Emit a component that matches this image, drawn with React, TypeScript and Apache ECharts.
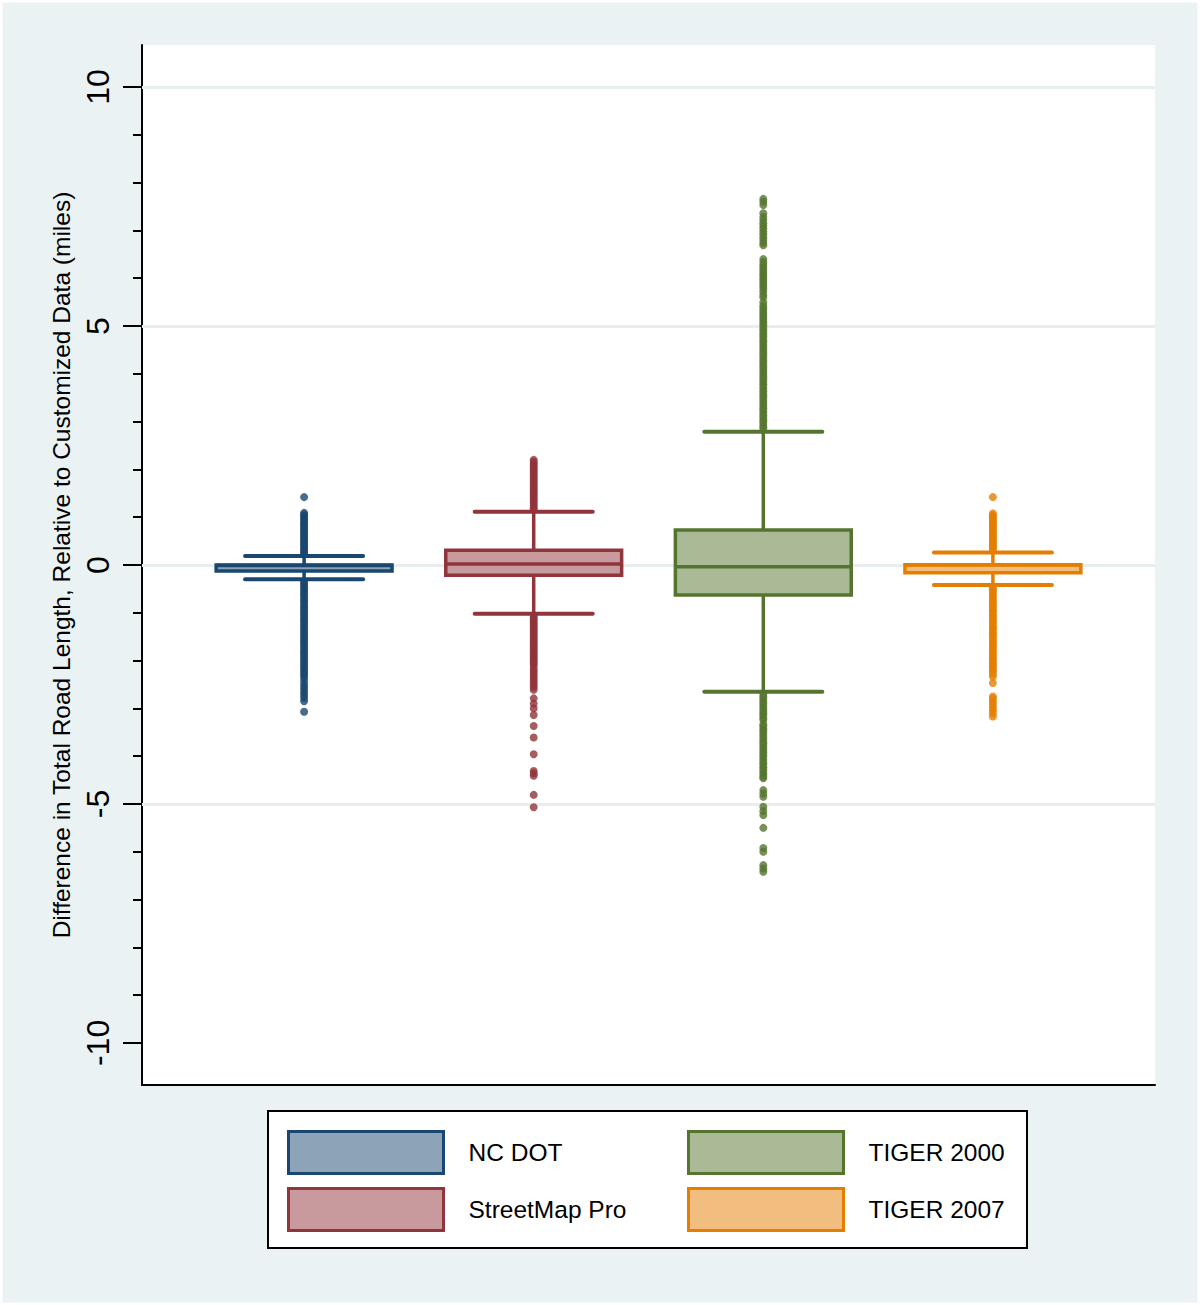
import React, { useEffect, useRef } from "react";
import * as echarts from "echarts";

const categories = ["NC DOT", "StreetMap Pro", "TIGER 2000", "TIGER 2007"];
const lineColors = ["#1A476F", "#90353B", "#55752F", "#E37E00"];
const fillColors = ["#8CA3B8", "#C89A9D", "#AABA97", "#F1BE7F"];
// [lower whisker, Q1, median, Q3, upper whisker]
const boxStats = [
  [-0.3, -0.125, -0.01, 0.0, 0.19],
  [-1.02, -0.215, 0.02, 0.31, 1.115],
  [-2.65, -0.63, -0.035, 0.73, 2.79],
  [-0.42, -0.16, 0.0, 0.005, 0.26],
];

const outliersNCDOT = [
  1.42, 1.09, 1.05, 1.02, 0.98, 0.95, 0.91, 0.87, 0.84, 0.8, 0.77, 0.73, 0.69, 0.66, 0.62, 0.59, 0.55,
  0.51, 0.48, 0.44, 0.41, 0.37, 0.33, 0.3, 0.26, 0.23,
  -0.34, -0.38, -0.42, -0.46, -0.5, -0.55, -0.59, -0.63, -0.67, -0.72, -0.76, -0.8, -0.85, -0.89, -0.93,
  -0.98, -1.02, -1.06, -1.11, -1.15, -1.19, -1.24, -1.28, -1.33, -1.37, -1.41, -1.46, -1.5, -1.55, -1.59,
  -1.63, -1.68, -1.72, -1.77, -1.81, -1.85, -1.9, -1.94, -1.99, -2.03, -2.08, -2.12, -2.17, -2.21, -2.26,
  -2.3, -2.35, -2.41, -2.48, -2.54, -2.6, -2.66, -2.72, -2.78, -2.85, -3.07,
];
const outliersStreetMap = [
  1.16, 1.2, 1.24, 1.28, 1.32, 1.36, 1.4, 1.44, 1.48, 1.52, 1.56, 1.6, 1.64, 1.68, 1.72, 1.76, 1.8, 1.84,
  1.88, 1.92, 1.96, 2.0, 2.04, 2.08, 2.12, 2.16, 2.2,
  -1.06, -1.1, -1.14, -1.18, -1.22, -1.26, -1.3, -1.34, -1.38, -1.42, -1.46, -1.5, -1.54, -1.58, -1.62,
  -1.66, -1.7, -1.74, -1.78, -1.82, -1.86, -1.9, -1.94, -1.98, -2.02, -2.06, -2.1, -2.16, -2.21, -2.26,
  -2.31, -2.36, -2.41, -2.46, -2.51, -2.56, -2.61, -2.79, -2.9, -3.0, -3.14, -3.37, -3.61, -3.96, -4.31,
  -4.36, -4.41, -4.81, -5.07,
];
const outliersTiger2000 = [
  2.83, 2.88, 2.93, 2.98, 3.03, 3.08, 3.13, 3.18, 3.23, 3.28, 3.33, 3.38, 3.43, 3.48, 3.53, 3.58, 3.63,
  3.68, 3.73, 3.78, 3.83, 3.88, 3.93, 3.98, 4.03, 4.08, 4.13, 4.18, 4.23, 4.28, 4.33, 4.38, 4.43, 4.48,
  4.53, 4.58, 4.63, 4.68, 4.73, 4.78, 4.83, 4.88, 4.93, 4.98, 5.03, 5.08, 5.13, 5.18, 5.23, 5.28, 5.33,
  5.38, 5.43, 5.5, 5.6, 5.65, 5.72, 5.78, 5.83, 5.88, 5.93, 5.98, 6.03, 6.08, 6.13, 6.18, 6.23, 6.28, 6.34,
  6.4, 6.69, 6.74, 6.8, 6.86, 6.92, 6.98, 7.04, 7.1, 7.15, 7.22, 7.28, 7.36, 7.53, 7.6, 7.66,
  -2.7, -2.75, -2.8, -2.85, -2.9, -2.95, -3.0, -3.05, -3.1, -3.15, -3.2, -3.24, -3.33, -3.38, -3.43, -3.48,
  -3.53, -3.58, -3.63, -3.68, -3.73, -3.78, -3.83, -3.88, -3.93, -3.98, -4.03, -4.08, -4.13, -4.18, -4.23,
  -4.28, -4.33, -4.38, -4.43, -4.46, -4.71, -4.78, -4.85, -5.06, -5.15, -5.23, -5.5, -5.92, -6.0, -6.28,
  -6.35, -6.42,
];
const outliersTiger2007 = [
  1.42, 1.08, 1.04, 1.0, 0.97, 0.93, 0.89, 0.86, 0.82, 0.78, 0.75, 0.71, 0.67, 0.64, 0.6, 0.56, 0.53,
  0.49, 0.45, 0.42, 0.38, 0.34, 0.31,
  -0.46, -0.5, -0.54, -0.58, -0.63, -0.67, -0.71, -0.76, -0.8, -0.84, -0.89, -0.93, -0.97, -1.02, -1.06,
  -1.1, -1.15, -1.19, -1.23, -1.28, -1.32, -1.36, -1.41, -1.45, -1.49, -1.54, -1.58, -1.62, -1.67, -1.71,
  -1.75, -1.8, -1.84, -1.88, -1.93, -1.97, -2.01, -2.06, -2.1, -2.14, -2.19, -2.23, -2.28, -2.34, -2.47,
  -2.75, -2.8, -2.86, -2.92, -2.98, -3.04, -3.1, -3.17,
];
const outliers = [outliersNCDOT, outliersStreetMap, outliersTiger2000, outliersTiger2007];

const yMajorTicks = [-10, -5, 0, 5, 10];
const yMinorTicks = [-9, -8, -7, -6, -4, -3, -2, -1, 1, 2, 3, 4, 6, 7, 8, 9];
const gridValues = [-5, 0, 5, 10];

const FONT = "'Liberation Sans', Arial, sans-serif";

export default function App() {
  const ref = useRef<HTMLDivElement>(null);
  useEffect(() => {
    if (!ref.current) return;
    const chart = echarts.init(ref.current, null, { renderer: "svg" });

    const boxSeries = categories.map((name, i) => ({
      type: "custom",
      name,
      z: 2,
      xAxisIndex: 0,
      yAxisIndex: 0,
      itemStyle: { color: fillColors[i], borderColor: lineColors[i] },
      data: [[i + 1, ...boxStats[i]]],
      renderItem: (params: any, api: any) => {
        const x = api.value(0);
        const lo = api.coord([x, api.value(1)]);
        const q1 = api.coord([x, api.value(2)]);
        const md = api.coord([x, api.value(3)]);
        const q3 = api.coord([x, api.value(4)]);
        const hi = api.coord([x, api.value(5)]);
        const cx = lo[0];
        const hb = api.size([0.383, 0])[0];
        const hc = api.size([0.257, 0])[0];
        const stroke = lineColors[i];
        const ls = { stroke, lineWidth: 3.5 };
        return {
          type: "group",
          children: [
            { type: "line", shape: { x1: cx, y1: hi[1], x2: cx, y2: q3[1] }, style: ls },
            { type: "line", shape: { x1: cx, y1: q1[1], x2: cx, y2: lo[1] }, style: ls },
            { type: "line", shape: { x1: cx - hc, y1: hi[1], x2: cx + hc, y2: hi[1] }, style: { stroke, lineWidth: 4, lineCap: "round" } },
            { type: "line", shape: { x1: cx - hc, y1: lo[1], x2: cx + hc, y2: lo[1] }, style: { stroke, lineWidth: 4, lineCap: "round" } },
            {
              type: "rect",
              shape: { x: cx - hb, y: q3[1], width: 2 * hb, height: q1[1] - q3[1] },
              style: { fill: fillColors[i], stroke, lineWidth: 3.5 },
            },
            { type: "line", shape: { x1: cx - hb, y1: md[1], x2: cx + hb, y2: md[1] }, style: ls },
          ],
        };
      },
    }));

    const outlierSeries = categories.map((name, i) => ({
      type: "scatter",
      name,
      z: 3,
      symbol: "circle",
      symbolSize: 8,
      itemStyle: { color: lineColors[i] },
      data: outliers[i].map((v) => [i + 1, v]),
    }));

    const gridSeries = {
      type: "line",
      name: "grid",
      data: [],
      z: 1,
      markLine: {
        z: 1,
        silent: true,
        symbol: "none",
        label: { show: false },
        lineStyle: { color: "#E6EEF0", width: 3, type: "solid" },
        data: gridValues.map((v) => ({ yAxis: v })),
      },
    };

    const legendItem = (i: number) => ({
      name: categories[i],
      icon: "rect",
      itemStyle: { color: fillColors[i], borderColor: lineColors[i], borderWidth: 3 },
    });
    const legendBase = {
      orient: "vertical",
      top: 1130,
      itemWidth: 155,
      itemHeight: 42,
      itemGap: 12,
      padding: 0,
      selectedMode: false,
      textStyle: { fontSize: 24.5, color: "#000", fontFamily: FONT, padding: [0, 0, 0, 20] },
    };

    chart.setOption({
      animation: false,
      backgroundColor: "#EAF2F3",
      grid: {
        left: 142,
        top: 45,
        right: 45,
        bottom: 220,
        show: true,
        backgroundColor: "#FFFFFF",
        borderWidth: 0,
      },
      xAxis: {
        type: "value",
        min: 0.294,
        max: 4.706,
        axisLine: { show: true, onZero: false, lineStyle: { color: "#000", width: 2 } },
        axisTick: { show: false },
        axisLabel: { show: false },
        splitLine: { show: false },
      },
      yAxis: [
        {
          type: "value",
          min: -10.88,
          max: 10.88,
          position: "left",
          name: "Difference in Total Road Length, Relative to Customized Data (miles)",
          nameLocation: "middle",
          nameGap: 60,
          nameTextStyle: { fontSize: 24.5, color: "#000", fontFamily: FONT },
          axisLine: { show: true, onZero: false, lineStyle: { color: "#000", width: 2 } },
          axisTick: { show: true, customValues: yMajorTicks, length: 19, lineStyle: { color: "#000", width: 2 } },
          axisLabel: {
            show: true,
            customValues: yMajorTicks,
            rotate: 90,
            margin: 28,
            fontSize: 32,
            color: "#000",
            fontFamily: FONT,
          },
          splitLine: { show: false },
        },
        {
          type: "value",
          min: -10.88,
          max: 10.88,
          position: "left",
          axisLine: { show: false },
          axisTick: { show: true, customValues: yMinorTicks, length: 9, lineStyle: { color: "#000", width: 2 } },
          axisLabel: { show: false },
          splitLine: { show: false },
        },
      ],
      legend: [
        { ...legendBase, left: 287, data: [legendItem(0), legendItem(1)] },
        { ...legendBase, left: 687, data: [legendItem(2), legendItem(3)] },
      ],
      graphic: [
        {
          type: "rect",
          z: 0,
          shape: { x: 268, y: 1111, width: 759, height: 137 },
          style: { fill: "#FFFFFF", stroke: "#000", lineWidth: 2 },
        },
        {
          type: "rect",
          z: 100,
          silent: true,
          shape: { x: 0, y: 0, width: 1200, height: 1305 },
          style: { fill: "none", stroke: "#FFFFFF", lineWidth: 5 },
        },
      ],
      series: [gridSeries, ...boxSeries, ...outlierSeries],
    });

    return () => chart.dispose();
  }, []);

  return (
    <div
      ref={ref}
      style={{ position: "absolute", left: 0, top: 0, width: 1200, height: 1305 }}
    />
  );
}
